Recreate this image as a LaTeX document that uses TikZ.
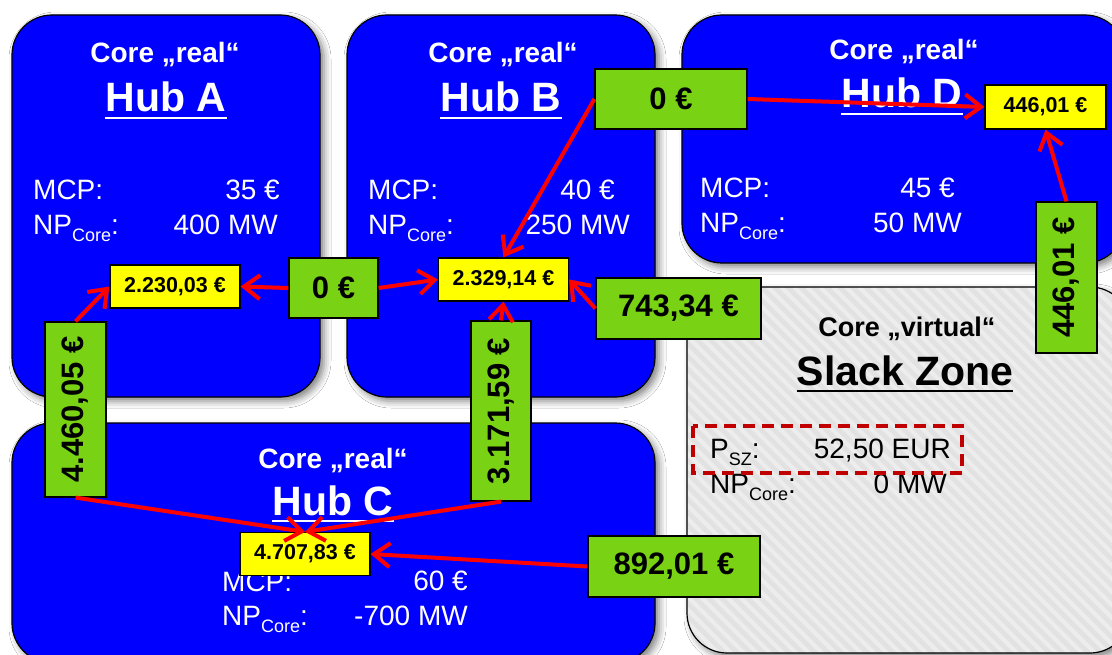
\documentclass[tikz,border=0pt]{standalone}
\usepackage{fontspec}
\setmainfont{Liberation Sans}
\usetikzlibrary{arrows.meta,shadows.blur}
\definecolor{hubblue}{RGB}{0,0,255}
\definecolor{flowgreen}{RGB}{122,210,20}
\definecolor{pricey}{RGB}{255,255,0}
\definecolor{arrred}{RGB}{255,0,0}
\definecolor{dashred}{RGB}{192,0,0}
\definecolor{slackgray}{RGB}{226,226,226}
\definecolor{stripecol}{RGB}{237,237,237}
\newcommand\fs[1]{\fontsize{#1}{#1}\selectfont}
\newcommand\npc{NP\raisebox{-7pt}{\fs{18}Core}:}
\newcommand\psz{P\raisebox{-7pt}{\fs{18}SZ}:}
\begin{document}
\begin{tikzpicture}[x=1pt,y=-1pt,
 hub/.style={draw=black, line width=1.2pt, fill=hubblue, rounded corners=40pt,
   blur shadow={shadow xshift=4pt,shadow yshift=-4pt,shadow blur radius=7pt,shadow opacity=50}},
 flow/.style={draw=black,line width=1.2pt,fill=flowgreen,inner sep=0pt,font=\fs{31}\bfseries},
 price/.style={draw=black,line width=1.2pt,fill=pricey,inner sep=0pt,minimum width=130pt,minimum height=43pt,font=\fs{21.5}\bfseries},
 flowarrow/.style={draw=arrred,line width=4pt,-{Straight Barb[length=16pt,width=24pt]}},
 title/.style={anchor=base,font=\fs{28}\bfseries,text=white,inner sep=0pt},
 hubname/.style={anchor=base,font=\fs{41}\bfseries,text=white,inner sep=0pt},
 lbl/.style={anchor=base west,font=\fs{28},text=white,inner sep=0pt},
 val/.style={anchor=base east,font=\fs{28},text=white,inner sep=0pt},
 ul/.style={line width=2.5pt},
]
\useasboundingbox (0,0) rectangle (1112,655);
\fill[white] (0,0) rectangle (1112,655);

% hub boxes
\path[hub] (12,15) rectangle (320,397);
\path[hub] (347,15) rectangle (655,397);
\path[hub] (682,15) rectangle (1125,263);
\path[hub] (12,423) rectangle (655,663);

% slack zone
\path[fill=slackgray, rounded corners=40pt,
   blur shadow={shadow xshift=4pt,shadow yshift=-4pt,shadow blur radius=7pt,shadow opacity=50}]
   (687,287) rectangle (1130,653);
\begin{scope}
\clip[rounded corners=40pt] (687,287) rectangle (1130,653);
\foreach \i in {0,...,66} {
  \draw[stripecol,line width=4pt] (287+\i*13,287) -- ++(400,400);
}
\end{scope}
\draw[black,line width=1.2pt,rounded corners=40pt] (687,287) rectangle (1130,653);

% Hub A texts
\node[title] (cA) at (165,63) {Core „real“};
\node[hubname] (hA) at (166,112) {Hub A};
\draw[white,ul] ([yshift=-6pt]hA.base west) -- ([yshift=-6pt]hA.base east);
\node[lbl] (mA) at (33,200) {MCP:};
\node[val] (vA1) at (280,200) {35 €};
\node[lbl] (nA) at (33,235) {\npc};
\node[val] (vA2) at (278,235) {400 MW};

% Hub B texts
\node[title] (cB) at (503,63) {Core „real“};
\node[hubname] (hB) at (501,112) {Hub B};
\draw[white,ul] ([yshift=-6pt]hB.base west) -- ([yshift=-6pt]hB.base east);
\node[lbl] (mB) at (368,200) {MCP:};
\node[val] (vB1) at (615,200) {40 €};
\node[lbl] (nB) at (368,235) {\npc};
\node[val] (vB2) at (630,235) {250 MW};

% Hub D texts
\node[title] (cD) at (904,60) {Core „real“};
\node[hubname] (hD) at (902,108) {Hub D};
\draw[white,ul] ([yshift=-6pt]hD.base west) -- ([yshift=-6pt]hD.base east);
\node[lbl] (mD) at (700,198) {MCP:};
\node[val] (vD1) at (955,198) {45 €};
\node[lbl] (nD) at (700,233) {\npc};
\node[val] (vD2) at (962,233) {50 MW};

% Hub C texts
\node[title] (cC) at (333,468) {Core „real“};
\node[hubname] (hC) at (333,515) {Hub C};
\draw[white,ul] ([yshift=-6pt]hC.base west) -- ([yshift=-6pt]hC.base east);
\node[lbl] (mC) at (222,591) {MCP:};
\node[val] (vC1) at (468,590) {60 €};
\node[lbl] (nC) at (222,625) {\npc};
\node[val] (vC2) at (468,625) {-700 MW};

% Slack zone texts
\node[title,text=black,font=\fs{27}\bfseries] (cS) at (907,337) {Core „virtual“};
\node[hubname,text=black] (hS) at (905,385) {Slack Zone};
\draw[black,ul] ([yshift=-6pt]hS.base west) -- ([yshift=-6pt]hS.base east);
\node[lbl,text=black] (pS) at (710,458) {\psz};
\node[val,text=black] (vS1) at (951,458) {52,50 EUR};
\node[lbl,text=black] (nS) at (710,493) {\npc};
\node[val,text=black] (vS2) at (947,493) {0 MW};
\draw[dashred,line width=4.5pt,dash pattern=on 12pt off 7pt] (693,426) rectangle (962,473);

% price boxes
\node[price] (yA) at (175,286.5) {2.230,03 €};
\node[price] (yB) at (503.5,279.5) {2.329,14 €};
\node[price,minimum width=121pt,minimum height=44pt] (yD) at (1045.5,107) {446,01 €};
\node[price] (yC) at (305,554) {4.707,83 €};

% flow boxes
\node[flow,minimum width=89pt,minimum height=60pt] (gAB) at (333.5,288) {0 €};
\node[flow,minimum width=152pt,minimum height=60pt] (gBD) at (671,99) {0 €};
\node[flow,minimum width=165pt,minimum height=61pt] (gSB) at (678.5,308.5) {743,34 €};
\node[flow,minimum width=61pt,minimum height=175pt] (gAC) at (75.5,409.5) {\rotatebox{90}{4.460,05 €}};
\node[flow,minimum width=60pt,minimum height=180pt] (gBC) at (501,411) {\rotatebox{90}{3.171,59 €}};
\node[flow,minimum width=172pt,minimum height=61pt] (gSC) at (674,566.5) {892,01 €};
\node[flow,minimum width=61pt,minimum height=151pt] (gSD) at (1066.5,277.5) {\rotatebox{90}{446,01 €}};

% arrows
\draw[flowarrow] (gAB.west) -- (yA.east);
\draw[flowarrow] (gAB.east) -- (yB.west);
\draw[flowarrow] (gBD.west) -- (yB.north);
\draw[flowarrow] (gBD.east) -- (yD.west);
\draw[flowarrow] (gSB.west) -- (yB.east);
\draw[flowarrow] (gBC.north) -- (yB.south);
\draw[flowarrow] (gAC.north) -- (yA.west);
\draw[flowarrow] (gSD.north) -- (yD.south);
\draw[flowarrow] (gAC.south) -- (yC.north);
\draw[flowarrow] (gBC.south) -- (yC.north);
\draw[flowarrow] (gSC.west) -- (yC.east);
\end{tikzpicture}
\end{document}
